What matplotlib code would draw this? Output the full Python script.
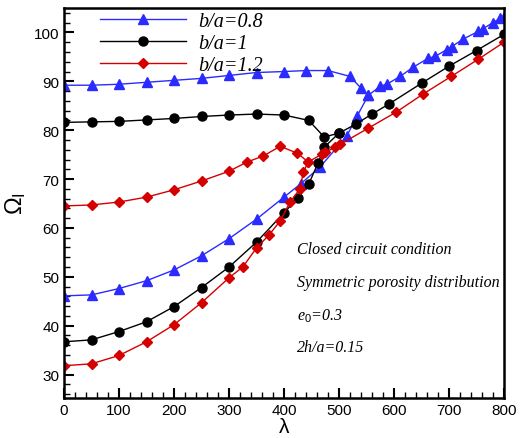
import matplotlib.pyplot as plt
from matplotlib.ticker import MultipleLocator

# b/a = 0.8
blue_up_x = [0, 50, 100, 150, 200, 250, 300, 350, 400, 440, 480, 520, 540, 553]
blue_up_y = [89.2, 89.2, 89.4, 89.8, 90.2, 90.6, 91.2, 91.8, 92.0, 92.2, 92.2, 91.0, 88.6, 87.1]
blue_lo_x = [0, 50, 100, 150, 200, 250, 300, 350, 400, 430, 465, 514, 533, 553,
             575, 587, 611, 635, 662, 675, 696, 705, 725, 753, 762, 780, 793, 800]
blue_lo_y = [46.1, 46.3, 47.6, 49.2, 51.4, 54.3, 57.8, 61.8, 66.3, 69.0, 72.4, 78.8, 82.9, 87.1,
             89.0, 89.4, 91.0, 92.9, 94.7, 95.1, 96.5, 97.1, 98.6, 100.2, 100.8, 102.0, 102.9, 103.2]

# b/a = 1
black_up_x = [0, 50, 100, 150, 200, 250, 300, 350, 400, 445, 473, 500]
black_up_y = [81.6, 81.7, 81.8, 82.1, 82.4, 82.8, 83.1, 83.3, 83.1, 82.0, 78.6, 79.4]
black_lo_x = [0, 50, 100, 150, 200, 250, 300, 350, 400, 425, 445, 462, 473, 500,
              530, 560, 590, 650, 700, 750, 800]
black_lo_y = [36.7, 37.1, 38.8, 40.8, 43.9, 47.8, 52.0, 57.1, 63.1, 66.1, 69.0, 73.3, 76.5, 79.4,
              81.2, 83.3, 85.3, 89.6, 93.1, 96.3, 99.6]

# b/a = 1.2
red_up_x = [0, 50, 100, 150, 200, 250, 300, 333, 362, 393, 424, 444]
red_up_y = [64.5, 64.7, 65.3, 66.3, 67.8, 69.6, 71.6, 73.5, 74.7, 76.7, 75.3, 73.5]
red_lo_x = [0, 50, 100, 150, 200, 250, 300, 325, 350, 373, 393, 411, 429, 435, 444,
            469, 475, 493, 502, 553, 604, 653, 704, 753, 800]
red_lo_y = [31.8, 32.2, 33.9, 36.7, 40.2, 44.7, 49.8, 52.0, 55.9, 58.6, 61.4, 65.3, 68.0, 71.4, 73.5,
            75.1, 75.5, 76.5, 77.1, 80.4, 83.7, 87.4, 91.0, 94.5, 98.0]

notes = ['Closed circuit condition', 'Symmetric porosity distribution',
         r'$e_0$=0.3', '2h/a=0.15']

plt.rcParams['font.family'] = ['Liberation Sans', 'DejaVu Sans']
plt.rcParams['mathtext.fontset'] = 'custom'
plt.rcParams['mathtext.it'] = 'Liberation Serif:italic'
plt.rcParams['mathtext.rm'] = 'Liberation Sans'

fig = plt.figure(figsize=(5.23, 4.39), dpi=100)
ax = fig.add_axes([0.1224, 0.0911, 0.8413, 0.8884])

blue = '#2b2bff'
red = '#d40000'
ax.plot(blue_up_x, blue_up_y, color=blue, lw=1, marker='^', ms=7, label='b/a=0.8')
ax.plot(blue_lo_x, blue_lo_y, color=blue, lw=1, marker='^', ms=7)
ax.plot(black_up_x, black_up_y, color='black', lw=1, marker='o', ms=6.5, label='b/a=1')
ax.plot(black_lo_x, black_lo_y, color='black', lw=1, marker='o', ms=6.5)
ax.plot(red_up_x, red_up_y, color=red, lw=1, marker='D', ms=5, label='b/a=1.2')
ax.plot(red_lo_x, red_lo_y, color=red, lw=1, marker='D', ms=5)

ax.set_xlim(0, 800)
ax.set_ylim(25.2, 105)
ax.xaxis.set_major_locator(MultipleLocator(100))
ax.xaxis.set_minor_locator(MultipleLocator(20))
ax.yaxis.set_major_locator(MultipleLocator(10))
ax.yaxis.set_minor_locator(MultipleLocator(2))
ax.tick_params(which='major', direction='in', length=7, width=1.5, labelsize=11)
ax.tick_params(which='minor', direction='in', length=4, width=1)
for s in ax.spines.values():
    s.set_linewidth(1.8)

ax.set_xlabel('λ', fontsize=15, labelpad=0)
ax.set_ylabel(r'$\Omega_{\rm I}$', fontsize=17, labelpad=4)

leg = ax.legend(loc='upper left', bbox_to_anchor=(0.04, 1.037), frameon=False,
                handlelength=4.3, handletextpad=0.6, labelspacing=0.15,
                prop={'family': 'Liberation Serif', 'style': 'italic', 'size': 14.5})

ys = [250, 283, 316, 348]
for t, py in zip(notes, ys):
    ax.text(297 / 523, 1 - py / 439, t, transform=fig.transFigure,
            fontsize=11.5, family='Liberation Serif', style='italic', va='center')

fig.savefig('out.png', dpi=100)
